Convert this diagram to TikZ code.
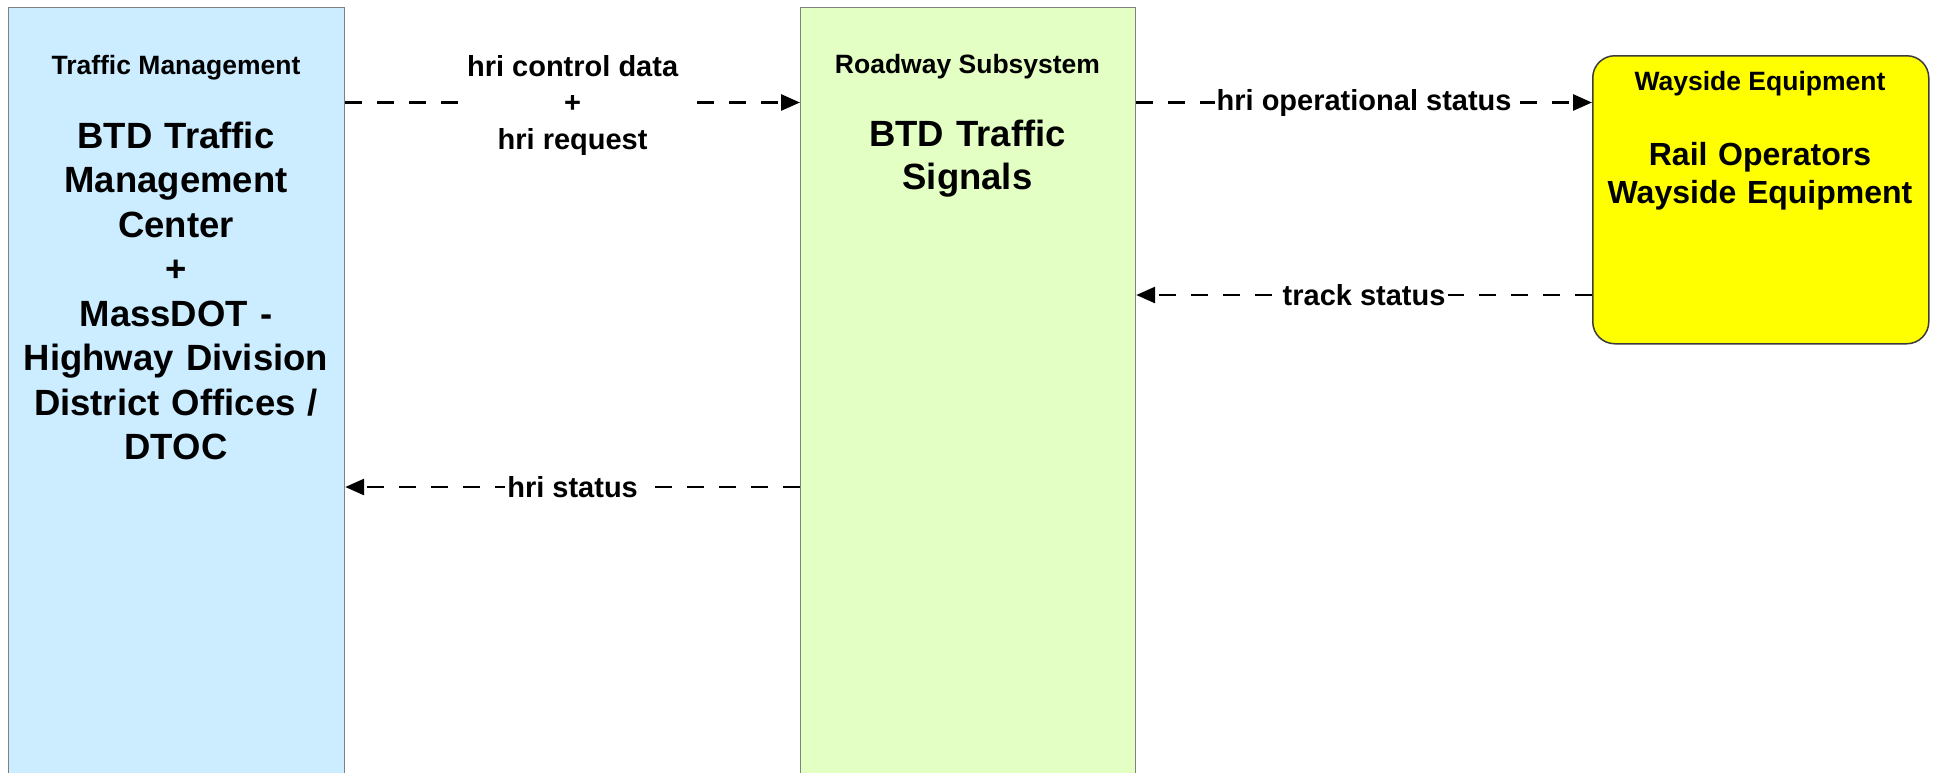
\documentclass[tikz,border=0pt]{standalone}
\usepackage{fontspec}
\setmainfont{Liberation Sans}
\usetikzlibrary{arrows.meta}
\definecolor{tmblue}{RGB}{204,236,255}
\definecolor{rsgreen}{RGB}{228,255,196}
\definecolor{wyyellow}{RGB}{255,255,0}
\definecolor{boxgray}{RGB}{128,128,128}
\definecolor{boxdark}{RGB}{60,60,60}
\tikzset{
  sysbox/.style={draw=boxgray, line width=1.2pt, inner sep=0pt, anchor=north west},
  titletext/.style={font=\bfseries\fontsize{26.5}{32}\selectfont, inner sep=0pt, anchor=base},
  bodytext/.style={font=\bfseries\fontsize{36.5}{44.5}\selectfont, inner sep=0pt, anchor=base, text width=330pt, align=center},
  flow/.style={draw=black, line width=2.8pt, dash pattern=on 17pt off 15pt, -{Triangle[length=19pt,width=16pt]}},
  lbl/.style={font=\bfseries\fontsize{29}{36.5}\selectfont, fill=white, inner sep=2pt, text=black}
}
\begin{document}
\begin{tikzpicture}[x=1pt,y=-1pt]
\useasboundingbox (0,0) rectangle (1937,772);
\clip (0,0) rectangle (1937,772);
\fill[white] (0,0) rectangle (1937,772);
% boxes
\node[sysbox, fill=tmblue, minimum width=336pt, minimum height=800pt] (tm) at (8,7) {};
\node[sysbox, fill=rsgreen, minimum width=335pt, minimum height=800pt] (rs) at (800,7) {};
\node[sysbox, draw=boxdark, line width=1.5pt, fill=wyyellow, rounded corners=22pt, minimum width=336pt, minimum height=288pt] (wy) at (1592,55) {};
% texts
\node[titletext] (tmt) at (176,74) {Traffic Management};
\node[bodytext] (tmb) at (176,148) {BTD Traffic\\Management\\Center\\+\\MassDOT -\\Highway Division\\District Offices /\\DTOC};
\node[titletext] (rst) at (967.5,73) {Roadway Subsystem};
\node[bodytext, font=\bfseries\fontsize{36.5}{43}\selectfont] (rsb) at (967.5,146) {BTD Traffic\\Signals};
\node[titletext] (wyt) at (1760,90) {Wayside Equipment};
\node[bodytext, font=\bfseries\fontsize{32}{38}\selectfont] (wyb) at (1760,165) {Rail Operators\\Wayside Equipment};
% levels
\coordinate (ya) at (0,102.5);
\coordinate (yb) at (0,295);
\coordinate (yc) at (0,487);
% flows
\draw[flow] (tm.east |- ya) -- node[lbl, inner sep=5pt, align=center, yshift=-2.5pt] (l1) {hri control data\\+\\hri request} (rs.west |- ya);
\draw[flow] (rs.east |- ya) -- node[lbl] (l2) {hri operational status} (wy.west |- ya);
\draw[flow] (wy.west |- yb) -- node[lbl] (l3) {track status} (rs.east |- yb);
\draw[flow] (rs.west |- yc) -- node[lbl] (l4) {hri status} (tm.east |- yc);
\end{tikzpicture}
\end{document}
